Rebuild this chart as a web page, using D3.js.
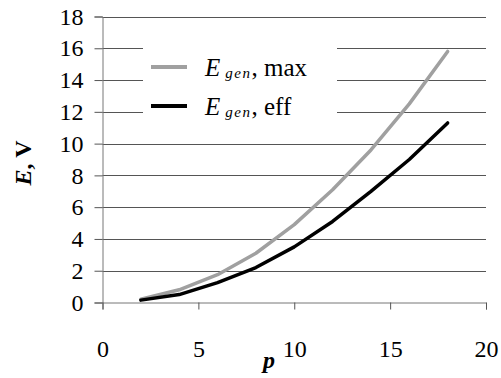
<!DOCTYPE html>
<html>
<head>
<meta charset="utf-8">
<script src="https://cdn.jsdelivr.net/npm/d3@7"></script>
</head>
<body style="margin:0;background:#fff">
<svg id="chart" width="501" height="378"></svg>
<script>
"use strict";

// Chart data
const pValues = [2, 4, 6, 8, 10, 12, 14, 16, 18];
const eMax = [0.2, 0.8, 1.75, 3.1, 4.9, 7.1, 9.6, 12.5, 15.8];
const eEff = [0.15, 0.5, 1.25, 2.2, 3.5, 5.1, 7.0, 9.0, 11.3];
const xTicks = [0, 5, 10, 15, 20];
const yTicks = [0, 2, 4, 6, 8, 10, 12, 14, 16, 18];
const seriesNames = ["max", "eff"];

const FONT = "Liberation Serif";
const svg = d3.select("#chart");

const x = d3.scaleLinear().domain([0, 20]).range([102.5, 486]);
const y = d3.scaleLinear().domain([0, 18]).range([302.5, 16.5]);

// gridlines
svg.append("g")
	.selectAll("line")
	.data(yTicks.filter(d => d > 0))
	.enter()
	.append("line")
	.attr("x1", x(0))
	.attr("x2", x(20))
	.attr("y1", d => Math.round(y(d)) + 0.5)
	.attr("y2", d => Math.round(y(d)) + 0.5)
	.style("stroke", "#555")
	.style("stroke-width", 1);

// y axis
const yAxis = svg.append("g")
	.attr("transform", `translate(${x(0)},0)`)
	.call(d3.axisLeft(y).tickValues(yTicks).tickSize(8).tickPadding(11).tickFormat(d3.format("d")));
yAxis.select(".domain").style("stroke", "#777");
yAxis.selectAll(".tick line").style("stroke", "#555");

// x axis
const xAxis = svg.append("g")
	.attr("transform", `translate(0,${y(0)})`)
	.call(d3.axisBottom(x).tickValues(xTicks).tickSize(7).tickPadding(30).tickFormat(d3.format("d")));
xAxis.select(".domain").style("stroke", "#777");
xAxis.selectAll(".tick line").style("stroke", "#555");

svg.selectAll(".tick text")
	.attr("fill", "#000")
	.attr("font-size", 24);

// series lines
const line = d3.line()
	.x((d, i) => x(pValues[i]))
	.y(d => y(d));

const series = [
	{name: seriesNames[0], values: eMax, color: "#a0a0a0", width: 3.5},
	{name: seriesNames[1], values: eEff, color: "#000", width: 3.5}
];

svg.append("g")
	.selectAll("path")
	.data(series)
	.enter()
	.append("path")
	.attr("d", d => line(d.values))
	.style("fill", "none")
	.style("stroke", d => d.color)
	.style("stroke-width", d => d.width)
	.style("stroke-linecap", "round")
	.style("stroke-linejoin", "round");

// legend
const legend = svg.append("g");
legend.append("rect")
	.attr("x", 143)
	.attr("y", 32)
	.attr("width", 194)
	.attr("height", 100)
	.style("fill", "#fff");

const items = legend.selectAll("g.item")
	.data(series)
	.enter()
	.append("g")
	.attr("class", "item")
	.attr("transform", (d, i) => `translate(0,${67 + i * 39})`);

items.append("line")
	.attr("x1", 151)
	.attr("x2", 187)
	.style("stroke", d => d.color)
	.style("stroke-width", 4);

const label = items.append("text")
	.attr("x", 205)
	.attr("y", 9)
	.attr("font-size", 25);
label.append("tspan").attr("font-style", "italic").text("E");
label.append("tspan")
	.attr("font-style", "italic")
	.attr("font-size", 15)
	.attr("letter-spacing", 1.5)
	.attr("dx", 5)
	.attr("dy", 2)
	.text("gen");
label.append("tspan").attr("dy", -2).text(d => ", " + d.name);

// axis titles
svg.append("text")
	.attr("x", 269)
	.attr("y", 368)
	.attr("text-anchor", "middle")
	.attr("font-size", 24)
	.attr("font-weight", "bold")
	.attr("font-style", "italic")
	.text("p");

const yTitle = svg.append("text")
	.attr("transform", "translate(31,163) rotate(-90)")
	.attr("text-anchor", "middle")
	.attr("font-size", 24)
	.attr("font-weight", "bold");
yTitle.append("tspan").attr("font-style", "italic").text("E");
yTitle.append("tspan").text(", V");

// serif everywhere, set on each text node
svg.selectAll("text, tspan")
	.attr("font-family", FONT)
	.style("font-family", FONT);
</script>
</body>
</html>
